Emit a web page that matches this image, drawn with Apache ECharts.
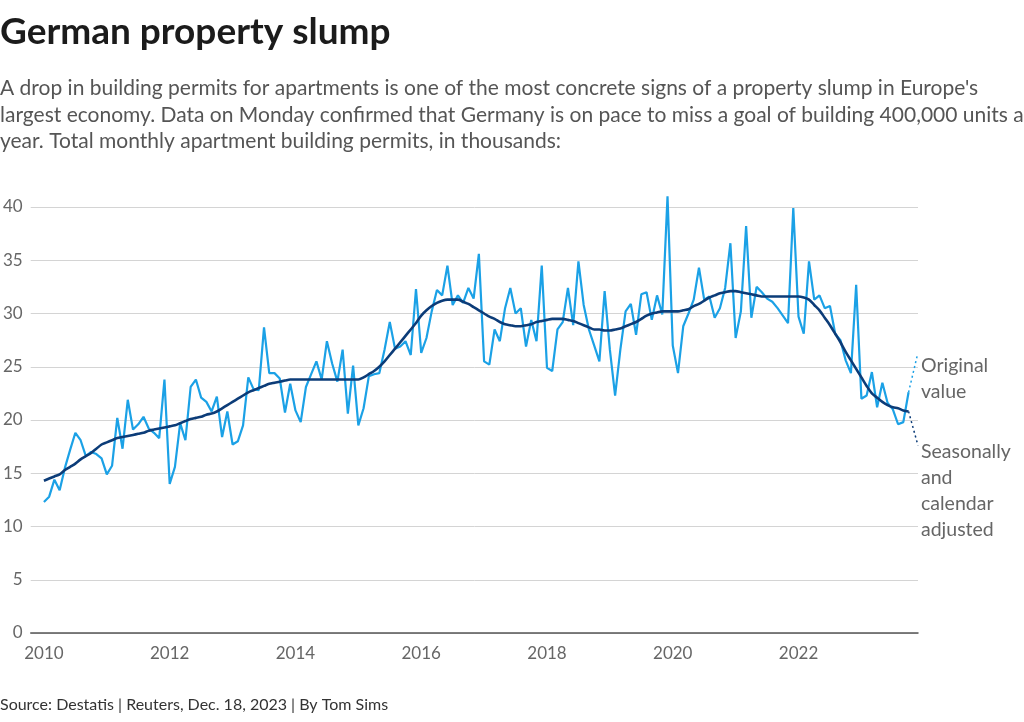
<!DOCTYPE html>
<html>
<head>
<meta charset="utf-8">
<script src="https://cdn.jsdelivr.net/npm/echarts@6/dist/echarts.min.js"></script>
<style>
html,body{margin:0;padding:0;background:#fff;}
#chart{width:1024px;height:722px;}
</style>
</head>
<body>
<div id="chart"></div>
<script>
// Monthly data, Jan 2010 .. Oct 2023 (thousands of apartment building permits)
const startYear = 2010;
const original = [
  12.3,12.8,14.4,13.4,15.5,17.2,18.8,18.1,16.6,17.0,16.8,16.4,
  14.9,15.7,20.2,17.3,21.9,19.1,19.6,20.3,19.2,18.8,18.3,23.8,
  14.0,15.6,19.7,18.1,23.1,23.8,22.1,21.7,20.8,22.2,18.4,20.8,
  17.7,18.0,19.5,24.0,22.9,22.8,28.7,24.4,24.4,23.9,20.7,23.4,
  20.9,19.8,23.1,24.3,25.5,23.8,27.4,25.3,23.6,26.6,20.6,25.1,
  19.5,21.1,24.1,24.3,24.4,26.6,29.2,26.7,26.9,27.4,26.1,32.3,
  26.3,27.7,30.2,32.2,31.7,34.5,30.8,31.7,31.0,32.4,31.4,35.6,
  25.5,25.2,28.5,27.4,30.5,32.4,30.0,30.5,26.9,29.4,27.4,34.5,
  24.9,24.6,28.5,29.2,32.4,28.9,34.9,30.8,28.5,27.0,25.5,32.1,
  26.6,22.3,26.6,30.2,30.9,28.0,31.8,32.0,29.4,31.7,29.9,41.0,
  27.0,24.4,28.8,30.0,31.3,34.3,31.3,31.6,29.6,30.5,32.4,36.6,
  27.7,30.2,38.2,29.6,32.5,32.0,31.4,31.1,30.5,29.8,29.1,39.9,
  29.7,28.1,34.9,31.3,31.7,30.5,30.7,28.1,27.5,25.6,24.4,32.7,
  22.0,22.3,24.5,21.2,23.5,21.6,21.0,19.6,19.8,22.6
];
const adjusted = [
  14.3,14.5,14.7,14.9,15.3,15.6,15.9,16.3,16.6,16.9,17.3,17.7,
  17.9,18.1,18.3,18.4,18.5,18.6,18.7,18.8,19.0,19.1,19.2,19.3,
  19.4,19.5,19.7,19.9,20.1,20.2,20.3,20.5,20.6,20.8,21.1,21.4,
  21.7,22.0,22.3,22.6,22.8,23.0,23.2,23.4,23.5,23.6,23.7,23.8,
  23.8,23.8,23.8,23.8,23.8,23.8,23.8,23.8,23.8,23.8,23.8,23.8,
  23.8,24.0,24.3,24.6,25.0,25.5,26.1,26.7,27.3,27.9,28.5,29.1,
  29.8,30.3,30.7,31.0,31.2,31.3,31.3,31.3,31.1,30.9,30.6,30.3,
  30.0,29.7,29.5,29.2,29.0,28.9,28.8,28.8,28.9,29.0,29.2,29.3,
  29.4,29.5,29.5,29.5,29.4,29.3,29.1,28.9,28.7,28.5,28.5,28.4,
  28.4,28.5,28.6,28.8,29.0,29.2,29.5,29.8,30.0,30.1,30.2,30.2,
  30.2,30.2,30.3,30.4,30.7,30.9,31.2,31.5,31.7,31.9,32.0,32.1,
  32.1,32.0,31.9,31.8,31.7,31.6,31.6,31.6,31.6,31.6,31.6,31.6,
  31.6,31.5,31.3,30.8,30.3,29.6,28.9,28.1,27.3,26.4,25.6,24.8,
  24.0,23.2,22.5,22.1,21.7,21.4,21.2,21.1,20.9,20.8
];
const xTickLabels = [2010, 2012, 2014, 2016, 2018, 2020, 2022];
const yTicks = [0, 5, 10, 15, 20, 25, 30, 35, 40];
const titleText = 'German property slump';
const subtitleLines = [
  "A drop in building permits for apartments is one of the most concrete signs of a property slump in Europe's",
  'largest economy. Data on Monday confirmed that Germany is on pace to miss a goal of building 400,000 units a',
  'year. Total monthly apartment building permits, in thousands:'
];
const sourceText = 'Source: Destatis | Reuters, Dec. 18, 2023 | By Tom Sims';
const labelOriginal = ['Original', 'value'];
const labelAdjusted = ['Seasonally', 'and', 'calendar', 'adjusted'];
// leader-line end points (data space)
const leaderOriginalEnd = [2023.89, 26.1];
const leaderAdjustedEnd = [2023.90, 17.6];

const toPairs = arr => arr.map((v, i) => [startYear + i / 12, v]);
const origData = toPairs(original);
const adjData = toPairs(adjusted);
const lastOrig = origData[origData.length - 1];
const lastAdj = adjData[adjData.length - 1];

const FONT = 'Lato, "Noto Sans", sans-serif';
const chart = echarts.init(document.getElementById('chart'), null, {renderer: 'canvas'});

chart.setOption({
  animation: false,
  backgroundColor: '#fff',
  grid: {left: 28, right: 106, top: 207, bottom: 89, containLabel: false},
  xAxis: {
    type: 'value',
    min: 2009.79,
    max: 2023.9,
    splitLine: {show: false},
    axisTick: {show: false},
    axisLine: {show: true, lineStyle: {color: '#555', width: 1.5}},
    axisLabel: {
      customValues: xTickLabels,
      formatter: v => String(Math.round(v)),
      color: '#666', fontSize: 17, fontFamily: FONT, margin: 12
    }
  },
  yAxis: {
    type: 'value',
    min: 0, max: 40, interval: 5,
    axisLine: {show: false},
    axisTick: {show: false},
    splitLine: {lineStyle: {color: '#d4d4d4', width: 1}},
    axisLabel: {color: '#666', fontSize: 17, fontFamily: FONT, margin: 8}
  },
  series: [
    {
      name: 'Original value',
      type: 'line',
      data: origData,
      showSymbol: false,
      clip: false,
      lineStyle: {color: '#1ba1e6', width: 2.2},
      z: 2,
      markLine: {
        silent: true, symbol: ['none', 'none'], label: {show: false},
        lineStyle: {color: '#1ba1e6', type: [2, 3], width: 1.5},
        data: [[{coord: lastOrig}, {coord: leaderOriginalEnd}]]
      }
    },
    {
      name: 'Seasonally and calendar adjusted',
      type: 'line',
      data: adjData,
      showSymbol: false,
      smooth: 0.3,
      clip: false,
      lineStyle: {color: '#0c3c78', width: 2.6},
      z: 3,
      markLine: {
        silent: true, symbol: ['none', 'none'], label: {show: false},
        lineStyle: {color: '#0c3c78', type: [2, 3], width: 1.5},
        data: [[{coord: lastAdj}, {coord: leaderAdjustedEnd}]]
      }
    }
  ],
  graphic: [
    {type: 'text', left: 0, top: 14, style: {text: titleText, font: 'bold 37px ' + FONT, fill: '#1b1b1b'}},
    {type: 'text', left: 0, top: 75, style: {text: subtitleLines.join('\n'), font: '21px ' + FONT, fill: '#555', lineHeight: 26.5}},
    {type: 'text', left: 0, top: 697, style: {text: sourceText, font: '16px ' + FONT, fill: '#333'}},
    {type: 'text', left: 921, top: 353, style: {text: labelOriginal.join('\n'), font: '19.5px ' + FONT, fill: '#666', lineHeight: 26}},
    {type: 'text', left: 921, top: 439, style: {text: labelAdjusted.join('\n'), font: '19.5px ' + FONT, fill: '#666', lineHeight: 26}}
  ]
});
</script>
</body>
</html>
